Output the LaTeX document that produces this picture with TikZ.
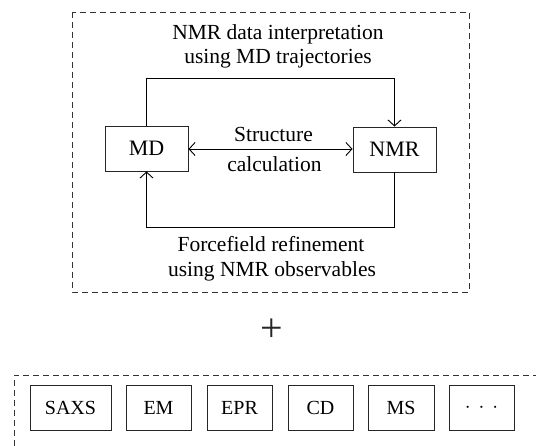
\documentclass[tikz,border=0pt]{standalone}
\usepackage{fontspec}
\setmainfont{Liberation Serif}
\usetikzlibrary{arrows.meta}
\tikzset{
  box/.style={draw=black!85, line width=0.9pt, minimum height=45pt, inner sep=0pt},
  conn/.style={line width=0.9pt, draw=black},
  tip/.style={-{Straight Barb[length=6pt,width=13pt,line width=0.9pt]}},
  dbltip/.style={{Straight Barb[length=6pt,width=13pt,line width=0.9pt]}-{Straight Barb[length=6pt,width=13pt,line width=0.9pt]}},
  dash box/.style={draw=black!80, line width=0.9pt, dash pattern=on 6pt off 4pt},
  lbl/.style={font=\fontsize{21.5}{21.5}\selectfont, anchor=base, inner sep=0pt},
}
\begin{document}
\begin{tikzpicture}[x=1pt,y=-1pt]
\useasboundingbox (0,0) rectangle (536,446);
% upper dashed frame
\draw[dash box] (72,12) rectangle (469,292);
% main nodes
\node[box, minimum width=83pt, font=\fontsize{22}{22}\selectfont] (MD) at (146.5,148.5) {MD};
\node[box, minimum width=83pt, font=\fontsize{22}{22}\selectfont] (NMR) at (394.5,149.5) {NMR};
% labels
\node[lbl] (t1) at (278,40) {NMR data interpretation};
\node[lbl] (t2) at (278,64) {using MD trajectories};
\node[lbl] (b1) at (271,252) {Forcefield refinement};
\node[lbl] (b2) at (272,277) {using NMR observables};
\node[lbl] (s1) at (273.5,142) {Structure};
\node[lbl] (s2) at (274.5,172) {calculation};
% connectors
\draw[conn, tip] (MD.north) -- (MD.north |- 0,78) -| (NMR.north);
\draw[conn, tip] (NMR.south) -- (NMR.south |- 0,227) -| (MD.south);
\draw[conn, dbltip] (MD.east |- 0,149) -- (NMR.west |- 0,149);
% plus
\node[inner sep=0pt, text=black!85] (plus) at (271.5,330) {\fontsize{40}{40}\selectfont +};
% lower dashed frame (cut by the page)
\draw[dash box] (14,446) -- (14,375) -- (536,375);
% method boxes
\begin{scope}[font=\fontsize{20}{20}\selectfont]
\node[box, minimum width=81pt] (saxs) at (70.5,407.5) {SAXS};
\node[box, minimum width=65pt] (em) at (158.5,407.5) {EM};
\node[box, minimum width=65pt] (epr) at (239.5,407.5) {EPR};
\node[box, minimum width=65pt] (cd) at (320.5,407.5) {CD};
\node[box, minimum width=66pt] (ms) at (401,407.5) {MS};
\node[box, minimum width=65pt] (dots) at (481.5,407.5) {\fontsize{22}{22}\selectfont$\cdot\,\cdot\,\cdot$};
\end{scope}
\end{tikzpicture}
\end{document}
